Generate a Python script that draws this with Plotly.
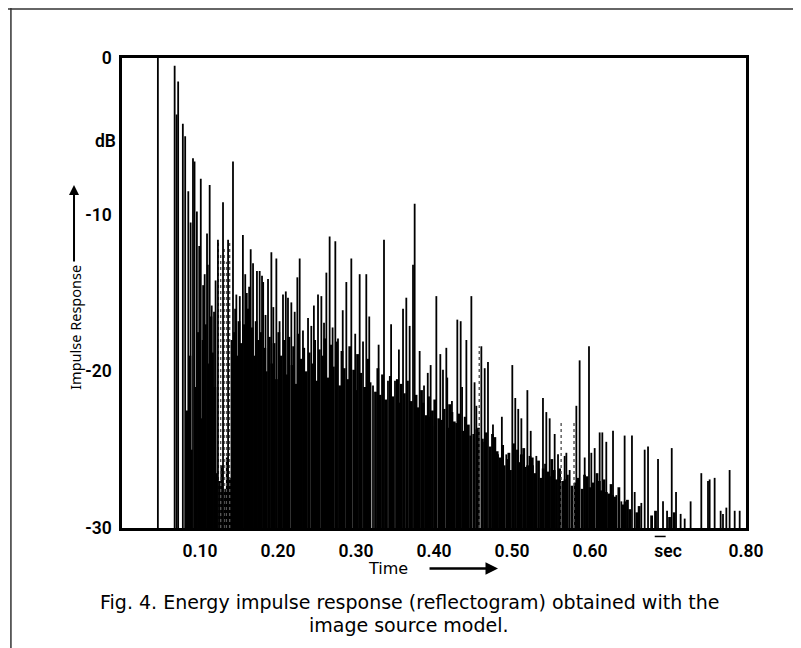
import plotly.graph_objects as go

# ---- data (time in s, level in dB) ----
t_peaks = [0.046, 0.0675, 0.070, 0.072, 0.078, 0.081, 0.085, 0.091, 0.093, 0.096,
           0.101, 0.106, 0.109, 0.110, 0.1124, 0.118, 0.123, 0.1295, 0.136, 0.1423,
           0.1466, 0.151, 0.155, 0.160, 0.165, 0.168, 0.173, 0.1765, 0.1795, 0.181,
           0.1872, 0.1915, 0.1979, 0.2064, 0.2128, 0.2171, 0.2214, 0.2248, 0.2278, 0.2385,
           0.2427, 0.2513, 0.2556, 0.262, 0.2662, 0.2735, 0.2769, 0.2876, 0.294, 0.3047,
           0.309, 0.3132, 0.3218, 0.3359, 0.341, 0.350, 0.3603, 0.3645, 0.3688, 0.3731,
           0.3752, 0.3816, 0.3872, 0.3957, 0.4009, 0.4030, 0.4081, 0.4115, 0.4158, 0.423,
           0.4299, 0.4342, 0.4415, 0.4479, 0.4543, 0.4607, 0.465, 0.4692, 0.4756, 0.4821,
           0.4927, 0.5004, 0.5042, 0.512, 0.5197, 0.5269, 0.5312, 0.5397, 0.5483, 0.5547,
           0.559, 0.5675, 0.5697, 0.5739, 0.5825, 0.5867, 0.5932, 0.5987, 0.6017, 0.606,
           0.6124, 0.6158, 0.6209, 0.6295, 0.6338, 0.6402, 0.6444, 0.6538, 0.6573, 0.6658,
           0.6701, 0.6744, 0.6872, 0.6936, 0.6988, 0.7048, 0.7103, 0.7162, 0.7214, 0.729,
           0.7427, 0.7513, 0.7534, 0.7598, 0.7675, 0.7705, 0.7748, 0.779, 0.7855, 0.7919,
           0.088, 0.099, 0.104, 0.115, 0.120, 0.145, 0.158, 0.163, 0.184, 0.194,
           0.202, 0.210, 0.232, 0.246, 0.259, 0.270, 0.283, 0.299, 0.317, 0.329,
           0.345, 0.355, 0.392, 0.417, 0.436, 0.452, 0.487, 0.508, 0.524, 0.544]
db_peaks = [0.0, -0.5, -3.6, -1.5, -4.2, -5.0, -8.5, -6.4, -6.6, -9.8,
            -7.7, -13.8, -11.2, -13.2, -8.1, -16.2, -11.6, -9.2, -11.6, -6.6,
            -15.1, -15.2, -11.3, -15.0, -12.2, -13.1, -13.6, -13.6, -13.9, -14.3,
            -14.1, -12.4, -12.8, -15.1, -15.3, -15.6, -16.2, -14.0, -12.8, -16.6,
            -17.1, -15.1, -15.2, -13.7, -11.4, -11.7, -17.9, -14.3, -12.8, -13.8,
            -18.1, -13.8, -20.9, -11.6, -20.6, -20.6, -16.0, -15.3, -17.1, -13.2,
            -9.3, -18.7, -20.9, -19.6, -23.5, -15.2, -18.9, -19.9, -18.5, -21.9,
            -16.7, -16.8, -18.0, -15.2, -22.2, -18.4, -19.8, -19.4, -23.4, -25.3,
            -25.3, -19.6, -21.7, -23.0, -21.2, -26.0, -25.4, -21.7, -23.0, -24.0,
            -25.3, -25.4, -25.2, -26.3, -22.2, -19.3, -25.5, -18.4, -25.2, -24.9,
            -23.9, -23.9, -24.5, -23.8, -27.9, -28.3, -24.1, -24.1, -27.7, -28.4,
            -25.0, -24.8, -25.6, -28.3, -28.9, -24.9, -27.7, -29.1, -29.4, -28.3,
            -26.5, -27.0, -26.9, -26.8, -28.9, -29.1, -28.7, -26.3, -28.9, -28.9,
            -10.5, -12.0, -14.5, -15.8, -14.2, -16.0, -13.8, -14.6, -16.4, -15.9,
            -16.8, -14.9, -17.4, -15.8, -16.9, -17.2, -16.1, -17.6, -16.5, -18.3,
            -17.0, -18.6, -20.1, -20.4, -21.0, -20.7, -22.9, -22.4, -23.8, -22.6]

t_dense = [0.083, 0.087, 0.089, 0.095, 0.098, 0.103, 0.104,
           0.107, 0.111, 0.114, 0.116, 0.119, 0.121, 0.125, 0.128, 0.132, 0.135, 0.139,
           0.141, 0.144, 0.148, 0.150, 0.153, 0.157, 0.159, 0.162, 0.164, 0.167, 0.170,
           0.172, 0.175, 0.178, 0.183, 0.185, 0.189, 0.192, 0.195, 0.198, 0.201, 0.204,
           0.208, 0.211, 0.214, 0.218, 0.220, 0.223, 0.226, 0.230, 0.233, 0.236, 0.240,
           0.244, 0.247, 0.250, 0.253, 0.258, 0.260, 0.264, 0.268, 0.271, 0.275, 0.279,
           0.282, 0.285, 0.290, 0.292, 0.297, 0.300, 0.302, 0.306, 0.311, 0.315, 0.318,
           0.325, 0.328, 0.331, 0.334, 0.338, 0.344, 0.347, 0.353, 0.356, 0.358, 0.362,
           0.366, 0.371, 0.377, 0.380, 0.384, 0.390, 0.393, 0.398, 0.406, 0.413, 0.418,
           0.420, 0.426, 0.432, 0.437, 0.440, 0.444, 0.451, 0.457, 0.462, 0.467, 0.472,
           0.478, 0.485, 0.488, 0.490, 0.496, 0.498, 0.507, 0.509, 0.515, 0.517, 0.523,
           0.529, 0.534, 0.537, 0.543, 0.546, 0.551, 0.557, 0.561, 0.565, 0.571, 0.577,
           0.585, 0.590, 0.596, 0.604, 0.609, 0.614, 0.618, 0.624, 0.627, 0.632, 0.637,
           0.642, 0.648, 0.651, 0.660, 0.663, 0.679, 0.684, 0.702, 0.708,
           0.386, 0.395, 0.401, 0.410, 0.423, 0.429, 0.447, 0.455, 0.465, 0.475,
           0.481, 0.494, 0.502, 0.512, 0.520, 0.526, 0.540, 0.548, 0.554, 0.568,
           0.581, 0.593, 0.600, 0.612, 0.621, 0.629, 0.645]
db_dense = [-22.5, -19.0, -25.0, -21.0, -17.5, -23.0, -18.0,
            -17.0, -19.5, -16.5, -18.8, -21.0, -26.5, -27.0, -26.0, -27.5, -25.5, -26.8,
            -18.0, -17.5, -19.0, -16.8, -18.2, -17.0, -19.8, -16.0, -18.5, -17.2, -19.0,
            -16.8, -18.0, -17.5, -18.5, -20.0, -17.8, -19.5, -18.2, -20.5, -17.5, -19.0,
            -18.0, -20.2, -17.8, -19.6, -18.4, -20.8, -17.6, -19.2, -18.5, -20.0, -18.8,
            -19.5, -18.0, -20.6, -18.6, -19.0, -17.9, -20.4, -18.3, -19.7, -18.1, -20.9,
            -18.7, -19.8, -20.5, -18.4, -19.9, -21.2, -18.9, -20.1, -21.0, -19.2, -20.7,
            -21.3, -19.8, -21.5, -20.2, -21.8, -20.3, -21.6, -20.5, -22.0, -20.8, -21.4,
            -20.6, -21.9, -21.5, -22.3, -21.2, -22.8, -21.6, -22.5, -23.0, -22.4, -23.6,
            -22.1, -23.2, -22.7, -23.8, -22.9, -23.4, -24.0, -23.6, -24.3, -23.9, -24.8,
            -24.2, -25.5, -24.7, -26.0, -25.2, -26.3, -25.0, -25.8, -24.9, -26.1, -25.4,
            -26.5, -25.7, -26.8, -25.9, -26.4, -25.6, -26.9, -26.2, -27.0, -26.6, -27.3,
            -26.8, -27.5, -26.7, -27.1, -26.5, -27.6, -26.9, -27.8, -27.2, -28.0, -27.4,
            -28.5, -28.2, -28.8, -29.0, -28.6, -29.2, -28.9, -29.3, -29.0,
            -22.0, -22.9, -21.8, -23.1, -22.6, -23.3, -24.1, -23.7, -24.5, -24.0,
            -25.1, -25.6, -24.6, -25.3, -26.0, -25.5, -26.2, -26.7, -26.3, -26.9,
            -27.1, -26.6, -27.4, -27.0, -27.7, -27.9, -28.3]

t_halftone = [0.1235, 0.1265, 0.131, 0.134, 0.138, 0.458, 0.563, 0.5795]
db_halftone = [-11.8, -12.5, -12.0, -13.0, -11.8, -18.4, -23.3, -23.3]

x_ticks = [0.1, 0.2, 0.3, 0.4, 0.5, 0.6, 0.7, 0.8]
x_ticktext = ["0.10", "0.20", "0.30", "0.40", "0.50", "0.60", "sec", "0.80"]
y_ticks = [0, -10, -20, -30]
y_ticktext = ["0", "-10", "-20", "-30"]
floor_db = -30


def stems(ts, levels):
    xs, ys = [], []
    for t, v in zip(ts, levels):
        xs += [t, t, None]
        ys += [floor_db, v, None]
    return xs, ys


fig = go.Figure()
xd, yd = stems(t_dense, db_dense)
fig.add_trace(go.Scatter(x=xd, y=yd, mode="lines", line=dict(color="black", width=2.8),
                         hoverinfo="skip", showlegend=False))
xh, yh = stems(t_halftone, db_halftone)
fig.add_trace(go.Scatter(x=xh, y=yh, mode="lines", line=dict(color="#555", width=1.4, dash="dot"),
                         hoverinfo="skip", showlegend=False))
xp, yp = stems(t_peaks, db_peaks)
fig.add_trace(go.Scatter(x=xp, y=yp, mode="lines", line=dict(color="black", width=1.8),
                         hoverinfo="skip", showlegend=False))

tick_font = dict(family="Roboto, Liberation Sans, sans-serif", size=17.5, color="black", weight=600)
text_font = dict(family="DejaVu Sans, Noto Sans, sans-serif", size=19, color="black")

fig.update_layout(
    width=801, height=648,
    margin=dict(l=114, r=63, t=50, b=128),
    paper_bgcolor="white", plot_bgcolor="white",
    xaxis=dict(range=[0, 0.8], showline=True, mirror=True, linecolor="black", linewidth=2.5,
               showgrid=False, zeroline=False, ticks="", tickvals=x_ticks, ticktext=x_ticktext,
               tickfont=tick_font, ticklabelstandoff=5),
    yaxis=dict(range=[-30, 0], showline=True, mirror=True, linecolor="black", linewidth=2.5,
               showgrid=False, zeroline=False, ticks="", tickvals=y_ticks, ticktext=y_ticktext,
               tickfont=tick_font, ticklabelstandoff=4),
)

ann = []
ann.append(dict(text="dB", xref="paper", yref="y", x=0, y=-5.3, xanchor="right", yanchor="middle",
                xshift=-4, showarrow=False, font=tick_font))
ann.append(dict(text="Impulse Response", xref="paper", yref="paper", x=-0.0753, y=0.426,
                xanchor="center", yanchor="middle", textangle=-90, showarrow=False,
                font=dict(family="Noto Sans, DejaVu Sans, sans-serif", size=14.5, color="black")))
ann.append(dict(text="", xref="paper", yref="paper", x=-0.0769, y=0.73, ax=0, ay=78,
                showarrow=True, arrowhead=2, arrowsize=1, arrowwidth=2, arrowcolor="black"))
ann.append(dict(text="Time", xref="paper", yref="paper", x=0.426, y=-0.086,
                xanchor="center", yanchor="middle", showarrow=False,
                font=dict(text_font, size=16)))
ann.append(dict(text="", xref="paper", yref="paper", x=0.6026, y=-0.086, ax=-70, ay=0,
                showarrow=True, arrowhead=2, arrowsize=1, arrowwidth=2.5, arrowcolor="black"))
ann.append(dict(text="Fig. 4. Energy impulse response (reflectogram) obtained with the",
                xref="paper", yref="paper", x=0.46, y=-0.158, xanchor="center", yanchor="middle",
                showarrow=False, font=text_font))
ann.append(dict(text="image source model.", xref="paper", yref="paper", x=0.46, y=-0.206,
                xanchor="center", yanchor="middle", showarrow=False, font=text_font))
fig.update_layout(annotations=ann)

# page border of the scanned figure and the small bar over "sec"
fig.add_shape(type="line", xref="paper", yref="paper", x0=-0.2, x1=1.12, y0=1.104, y1=1.104,
              line=dict(color="#333", width=1.5))
fig.add_shape(type="line", xref="paper", yref="paper", x0=-0.178, x1=-0.178, y0=1.11, y1=-0.28,
              line=dict(color="#333", width=1.5))
fig.add_shape(type="line", xref="x", yref="paper", x0=0.683, x1=0.697, y0=-0.018, y1=-0.018,
              line=dict(color="black", width=1.5))

fig.write_html("out.html")
